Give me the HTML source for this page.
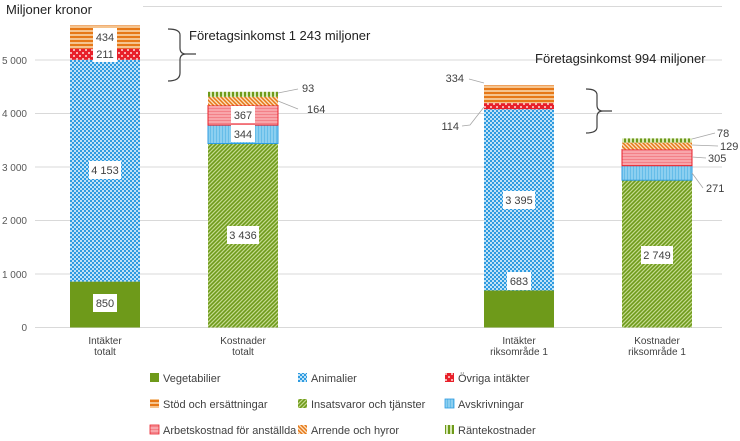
<!DOCTYPE html>
<html><head><meta charset="utf-8"><style>
body{margin:0;background:#fff}
svg{display:block;font-family:"Liberation Sans",sans-serif}
</style></head><body>
<svg width="740" height="441" viewBox="0 0 740 441">
<defs>
<pattern id="pAni" width="4" height="4" patternUnits="userSpaceOnUse"><rect width="4" height="4" fill="#2e9be0"/><rect x="0" y="0" width="2" height="2" fill="#bfe2f7"/><rect x="2" y="2" width="2" height="2" fill="#bfe2f7"/></pattern>
<pattern id="pOvr" width="6" height="6" patternUnits="userSpaceOnUse"><rect width="6" height="6" fill="#e8202a"/><rect x="1" y="1" width="2" height="2" fill="#f8b0b0"/><rect x="4" y="4" width="2" height="2" fill="#f8b0b0"/></pattern>
<pattern id="pStod" width="4" height="4" patternUnits="userSpaceOnUse"><rect width="4" height="4" fill="#f5c48f"/><rect y="0" width="4" height="2" fill="#e67817"/></pattern>
<pattern id="pIns" width="4" height="4" patternUnits="userSpaceOnUse"><rect width="4" height="4" fill="#c3d98e"/><path d="M-1,1 l2,-2 M0,4 l4,-4 M3,5 l2,-2" stroke="#6e9a1a" stroke-width="1.6"/></pattern>
<pattern id="pAvs" width="3" height="4" patternUnits="userSpaceOnUse"><rect width="3" height="4" fill="#8ccff0"/><rect width="1" height="4" fill="#66bde9"/></pattern>
<pattern id="pArb" width="4" height="3" patternUnits="userSpaceOnUse"><rect width="4" height="3" fill="#f8a5aa"/><rect width="4" height="1" fill="#f38088"/></pattern>
<pattern id="pArr" width="4" height="4" patternUnits="userSpaceOnUse"><rect width="4" height="4" fill="#fbe0c0"/><path d="M-1,-1 l6,6 M3,-1 l2,2 M-1,3 l2,2" stroke="#e67817" stroke-width="1.5"/></pattern>
<pattern id="pRan" width="4" height="4" patternUnits="userSpaceOnUse"><rect width="4" height="4" fill="#d7e8b5"/><rect width="2" height="4" fill="#6e9a1a"/></pattern>
</defs>
<g stroke="#d9d9d9" stroke-width="1">
<line x1="35" x2="722" y1="327.5" y2="327.5"/><line x1="35" x2="722" y1="274" y2="274"/><line x1="35" x2="722" y1="220.5" y2="220.5"/><line x1="35" x2="722" y1="167" y2="167"/><line x1="35" x2="722" y1="113.5" y2="113.5"/><line x1="35" x2="722" y1="60" y2="60"/><line x1="143" x2="722" y1="6.5" y2="6.5"/>
</g>
<g font-size="10" fill="#595959" text-anchor="end">
<text x="27" y="331">0</text><text x="27" y="278">1 000</text><text x="27" y="224">2 000</text><text x="27" y="171">3 000</text><text x="27" y="117">4 000</text><text x="27" y="64">5 000</text>
</g>
<text x="6" y="14" font-size="13" fill="#222">Miljoner kronor</text>
<rect x="70" y="281.6" width="70" height="45.9" fill="#6e9a1a"/>
<rect x="70" y="59.8" width="70" height="221.8" fill="url(#pAni)"/>
<rect x="70" y="48.6" width="70" height="11.2" fill="url(#pOvr)"/>
<rect x="70" y="25.4" width="70" height="23.2" fill="url(#pStod)"/>
<rect x="208" y="143.5" width="70" height="184" fill="url(#pIns)"/>
<rect x="208" y="125.1" width="70" height="18.4" fill="url(#pAvs)" stroke="#2e9be0" stroke-width="1"/>
<rect x="208" y="105.5" width="70" height="19.6" fill="url(#pArb)" stroke="#e8202a" stroke-width="1"/>
<rect x="208" y="96.8" width="70" height="8.7" fill="url(#pArr)"/>
<rect x="208" y="91.8" width="70" height="5" fill="url(#pRan)"/>
<rect x="484" y="290.5" width="70" height="37" fill="#6e9a1a"/>
<rect x="484" y="109.2" width="70" height="181.3" fill="url(#pAni)"/>
<rect x="484" y="103.1" width="70" height="6.1" fill="url(#pOvr)"/>
<rect x="484" y="85.3" width="70" height="17.8" fill="url(#pStod)"/>
<rect x="622" y="180.2" width="70" height="147.3" fill="url(#pIns)"/>
<rect x="622" y="165.7" width="70" height="14.5" fill="url(#pAvs)" stroke="#2e9be0" stroke-width="1"/>
<rect x="622" y="149.4" width="70" height="16.3" fill="url(#pArb)" stroke="#e8202a" stroke-width="1"/>
<rect x="622" y="142.6" width="70" height="6.8" fill="url(#pArr)"/>
<rect x="622" y="138.4" width="70" height="4.2" fill="url(#pRan)"/>
<g font-size="11" fill="#404040" text-anchor="middle">
<rect x="93" y="294" width="24" height="18" fill="#fff"/><text x="105" y="307">850</text>
<rect x="89" y="161" width="32" height="18" fill="#fff"/><text x="105" y="174">4 153</text>
<rect x="93" y="45" width="24" height="17" fill="#fff"/><text x="105" y="58">211</text>
<rect x="93" y="28" width="24" height="17" fill="#fff"/><text x="105" y="41">434</text>
<rect x="227" y="226" width="32" height="18" fill="#fff"/><text x="243" y="239">3 436</text>
<rect x="231" y="125" width="24" height="17" fill="#fff"/><text x="243" y="138">344</text>
<rect x="231" y="106" width="24" height="17" fill="#fff"/><text x="243" y="119">367</text>
<rect x="507" y="272" width="24" height="18" fill="#fff"/><text x="519" y="285">683</text>
<rect x="503" y="191" width="32" height="18" fill="#fff"/><text x="519" y="204">3 395</text>
<rect x="641" y="246" width="32" height="18" fill="#fff"/><text x="657" y="259">2 749</text>
</g>
<g stroke="#a6a6a6" fill="none" stroke-width="0.8">
<path d="M278,93 L298,89"/><path d="M278,101 L298,109"/>
<path d="M484,83 L469,79"/><path d="M484,107 L470,125 L462,126"/>
<path d="M692,139 L715,133"/><path d="M692,145 L718,146"/><path d="M692,157 L706,158"/><path d="M692,173 L703,188"/>
</g>
<g font-size="11" fill="#404040">
<text x="302" y="92">93</text><text x="307" y="113">164</text>
<text x="464" y="82" text-anchor="end">334</text><text x="459" y="130" text-anchor="end">114</text>
<text x="717" y="137">78</text><text x="720" y="150">129</text><text x="708" y="162">305</text><text x="706" y="192">271</text>
</g>
<g stroke="#404040" fill="none" stroke-width="1.2">
<path d="M168,29 Q180,29 180,35 L180,48 Q180,54 186,54 L196,54 M186,54 Q180,54 180,60 L180,73 Q180,81 168,81"/>
<path d="M586,89 Q597,89 597,95 L597,105 Q597,111 603,111 L612,111 M603,111 Q597,111 597,117 L597,127 Q597,133 586,133"/>
</g>
<text x="189" y="40" font-size="13" fill="#222">Företagsinkomst 1 243 miljoner</text>
<text x="535" y="63" font-size="13" fill="#222">Företagsinkomst 994 miljoner</text>
<g font-size="10" fill="#404040" text-anchor="middle">
<text x="105" y="344">Intäkter</text><text x="105" y="355">totalt</text>
<text x="243" y="344">Kostnader</text><text x="243" y="355">totalt</text>
<text x="519" y="344">Intäkter</text><text x="519" y="355">riksområde 1</text>
<text x="657" y="344">Kostnader</text><text x="657" y="355">riksområde 1</text>
</g>
<g font-size="11" fill="#404040">
<rect x="150" y="373" width="9" height="9" fill="#6e9a1a"/><text x="163" y="382">Vegetabilier</text>
<rect x="298" y="373" width="9" height="9" fill="url(#pAni)"/><text x="311" y="382">Animalier</text>
<rect x="445" y="373" width="9" height="9" fill="url(#pOvr)"/><text x="458" y="382">Övriga intäkter</text>
<rect x="150" y="399" width="9" height="9" fill="url(#pStod)"/><text x="163" y="408">Stöd och ersättningar</text>
<rect x="298" y="399" width="9" height="9" fill="url(#pIns)"/><text x="311" y="408">Insatsvaror och tjänster</text>
<rect x="445" y="399" width="9" height="9" fill="url(#pAvs)" stroke="#2e9be0" stroke-width="0.8"/><text x="458" y="408">Avskrivningar</text>
<rect x="150" y="425" width="9" height="9" fill="url(#pArb)" stroke="#e8202a" stroke-width="0.8"/><text x="163" y="434">Arbetskostnad för anställda</text>
<rect x="298" y="425" width="9" height="9" fill="url(#pArr)"/><text x="311" y="434">Arrende och hyror</text>
<rect x="445" y="425" width="9" height="9" fill="url(#pRan)"/><text x="458" y="434">Räntekostnader</text>
</g>
</svg>
</body></html>
